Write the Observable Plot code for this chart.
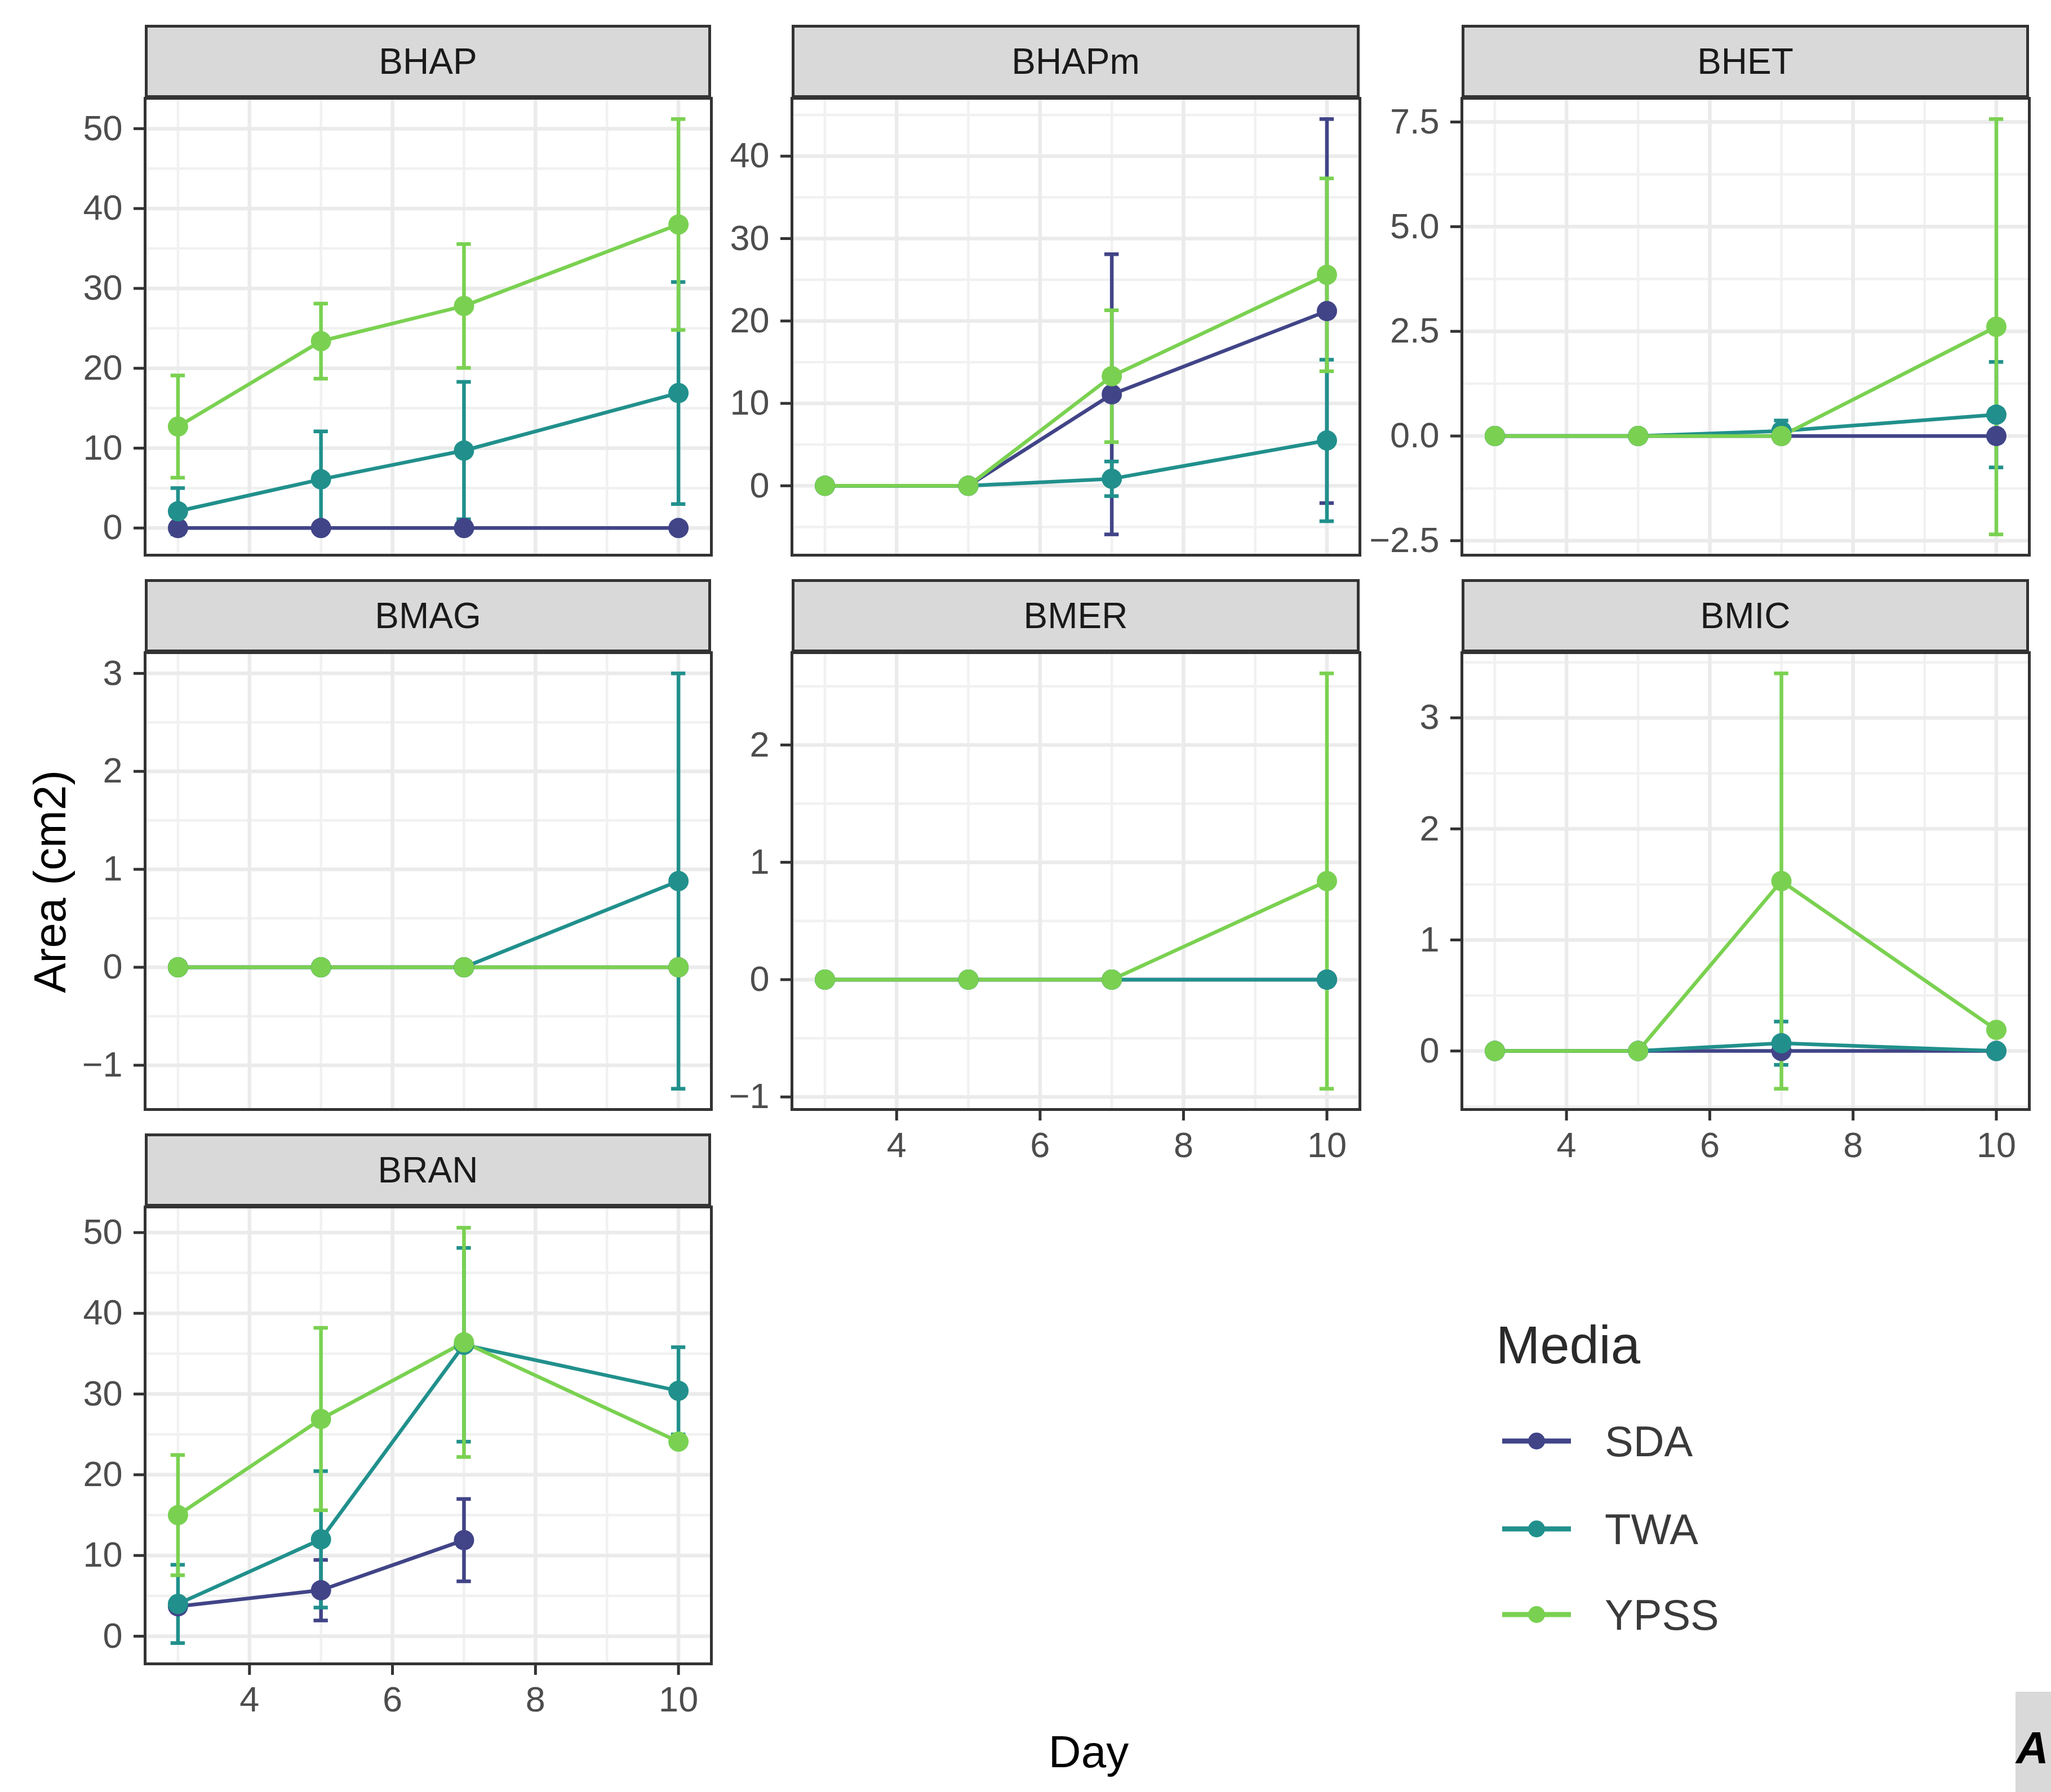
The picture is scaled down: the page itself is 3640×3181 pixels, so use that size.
<!DOCTYPE html>
<html>
<head>
<meta charset="utf-8">
<script src="https://cdn.jsdelivr.net/npm/d3@7"></script>
<script src="https://cdn.jsdelivr.net/npm/@observablehq/plot@0.6"></script>
<style>
  html, body { margin: 0; padding: 0; background: #ffffff; }
  #root { position: relative; width: 3640px; height: 3181px; background: #ffffff; overflow: hidden;
          font-family: "Liberation Sans", Arial, sans-serif; }
  .strip { position: absolute; box-sizing: border-box; background: #D9D9D9; border: 5px solid #333333;
           display: flex; align-items: center; justify-content: center; font-size: 64px; color: #1A1A1A; }
</style>
</head>
<body>
<div id="root"></div>
<script>
// ---------------- data ----------------
const days = [3, 5, 7, 10];
const media = ["SDA", "TWA", "YPSS"];
const mediaColors = ["#414487", "#21908C", "#7AD151"];
const panels = ["BHAP", "BHAPm", "BHET", "BMAG", "BMER", "BMIC", "BRAN"];
const xTicks = [4, 6, 8, 10];

// rows: SDA, TWA, YPSS ; columns: days 3, 5, 7, 10
const BHAP_mean  = [[0, 0, 0, 0], [2.1, 6.1, 9.7, 16.9], [12.7, 23.4, 27.8, 38.0]];
const BHAP_sd    = [[0, 0, 0, 0], [2.9, 6.0, 8.6, 13.9], [6.4, 4.7, 7.75, 13.2]];
const BHAPm_mean = [[0, 0, 11.1, 21.2], [0, 0, 0.85, 5.5], [0, 0, 13.3, 25.6]];
const BHAPm_sd   = [[0, 0, 17.0, 23.3], [0, 0, 2.1, 9.8], [0, 0, 8.0, 11.7]];
const BHET_mean  = [[0, 0, 0, 0], [0, 0, 0.12, 0.51], [0, 0, 0, 2.61]];
const BHET_sd    = [[0, 0, 0, 0], [0, 0, 0.25, 1.26], [0, 0, 0, 4.96]];
const BMAG_mean  = [[0, 0, 0, 0], [0, 0, 0, 0.88], [0, 0, 0, 0]];
const BMAG_sd    = [[0, 0, 0, 0], [0, 0, 0, 2.12], [0, 0, 0, 0]];
const BMER_mean  = [[0, 0, 0, 0], [0, 0, 0, 0], [0, 0, 0, 0.84]];
const BMER_sd    = [[0, 0, 0, 0], [0, 0, 0, 0], [0, 0, 0, 1.77]];
const BMIC_mean  = [[0, 0, 0, 0], [0, 0, 0.07, 0], [0, 0, 1.53, 0.19]];
const BMIC_sd    = [[0, 0, 0, 0], [0, 0, 0.195, 0], [0, 0, 1.87, 0]];
const BRAN_mean  = [[3.7, 5.7, 11.9, null], [4.0, 12.0, 36.1, 30.4], [15.0, 26.9, 36.4, 24.1]];
const BRAN_sd    = [[0, 3.75, 5.1, null], [4.85, 8.45, 12.0, 5.4], [7.45, 11.3, 14.2, 0]];

const BHAP_ticks  = [0, 10, 20, 30, 40, 50];
const BHAPm_ticks = [0, 10, 20, 30, 40];
const BHET_ticks  = [-2.5, 0, 2.5, 5, 7.5];
const BMAG_ticks  = [-1, 0, 1, 2, 3];
const BMER_ticks  = [-1, 0, 1, 2];
const BMIC_ticks  = [0, 1, 2, 3];
const BRAN_ticks  = [0, 10, 20, 30, 40, 50];

const yLabel = "Area (cm2)";
const xLabel = "Day";
const legendTitle = "Media";
const tagLabel = "A";

// ---------------- layout ----------------
const FONT = '"Liberation Sans", Arial, sans-serif';
const colLeft = [257, 1405, 2594];
const colWidth = [1005, 1008, 1007];
const colML = [250, 140, 178];
const stripTop = [44, 1028, 2012];
const STRIP_H = 130;
const PLOT_H = 811;
const MT = 3, MR = 4;
const LW = 6.5;

const panelSpecs = [
  {name: "BHAP",  mean: BHAP_mean,  sd: BHAP_sd,  ticks: BHAP_ticks,  fmt: d3.format("d"),   col: 0, row: 0, showX: false},
  {name: "BHAPm", mean: BHAPm_mean, sd: BHAPm_sd, ticks: BHAPm_ticks, fmt: d3.format("d"),   col: 1, row: 0, showX: false},
  {name: "BHET",  mean: BHET_mean,  sd: BHET_sd,  ticks: BHET_ticks,  fmt: d3.format(".1f"), col: 2, row: 0, showX: false},
  {name: "BMAG",  mean: BMAG_mean,  sd: BMAG_sd,  ticks: BMAG_ticks,  fmt: d3.format("d"),   col: 0, row: 1, showX: false},
  {name: "BMER",  mean: BMER_mean,  sd: BMER_sd,  ticks: BMER_ticks,  fmt: d3.format("d"),   col: 1, row: 1, showX: true},
  {name: "BMIC",  mean: BMIC_mean,  sd: BMIC_sd,  ticks: BMIC_ticks,  fmt: d3.format("d"),   col: 2, row: 1, showX: true},
  {name: "BRAN",  mean: BRAN_mean,  sd: BRAN_sd,  ticks: BRAN_ticks,  fmt: d3.format("d"),   col: 0, row: 2, showX: true}
];

const root = document.getElementById("root");

function expand(lo, hi, f = 0.05) {
  const p = (hi - lo) * f;
  return [lo - p, hi + p];
}

const xDomain = expand(d3.min(days) - 0.1, d3.max(days) + 0.1);
const xMinor = [3, 5, 7, 9];

for (const spec of panelSpecs) {
  const rows = [];
  media.forEach((m, i) => days.forEach((d, j) => {
    const v = spec.mean[i][j];
    if (v != null) rows.push({media: m, day: d, mean: v, sd: spec.sd[i][j] || 0});
  }));
  const yDomain = expand(d3.min(rows, r => r.mean - r.sd), d3.max(rows, r => r.mean + r.sd));
  const step = spec.ticks[1] - spec.ticks[0];
  const yMinor = [spec.ticks[0] - step / 2, ...spec.ticks.map(t => t + step / 2)]
    .filter(v => v >= yDomain[0] && v <= yDomain[1]);

  const pw = colWidth[spec.col];
  const ml = colML[spec.col];
  const mb = spec.showX ? 110 : 4;

  const errMarks = [];
  for (const m of media) {
    const er = rows.filter(r => r.media === m && r.sd > 0);
    errMarks.push(
      Plot.ruleX(er, {x: "day", y1: r => r.mean - r.sd, y2: r => r.mean + r.sd, stroke: "media", strokeWidth: LW}),
      Plot.ruleY(er, {y: r => r.mean + r.sd, x1: r => r.day - 0.1, x2: r => r.day + 0.1, stroke: "media", strokeWidth: LW}),
      Plot.ruleY(er, {y: r => r.mean - r.sd, x1: r => r.day - 0.1, x2: r => r.day + 0.1, stroke: "media", strokeWidth: LW})
    );
  }

  const svg = Plot.plot({
    width: ml + pw + MR,
    height: MT + PLOT_H + mb,
    marginLeft: ml, marginRight: MR, marginTop: MT, marginBottom: mb,
    style: {fontSize: "63px", fontFamily: FONT, background: "transparent", overflow: "visible"},
    x: {domain: xDomain, label: null},
    y: {domain: yDomain, label: null},
    color: {domain: media, range: mediaColors},
    marks: [
      Plot.ruleX(xMinor, {stroke: "#F1F1F1", strokeWidth: 4.5}),
      Plot.ruleY(yMinor, {stroke: "#F1F1F1", strokeWidth: 4.5}),
      Plot.ruleX(xTicks, {stroke: "#EBEBEB", strokeWidth: 6.5}),
      Plot.ruleY(spec.ticks, {stroke: "#EBEBEB", strokeWidth: 6.5}),
      Plot.line(rows, {x: "day", y: "mean", z: "media", stroke: "media", strokeWidth: LW}),
      ...errMarks,
      Plot.dot(rows, {x: "day", y: "mean", fill: "media", r: 18}),
      Plot.frame({stroke: "#333333", strokeWidth: 5}),
      Plot.axisY(spec.ticks, {tickSize: 20, tickPadding: 20, stroke: "#333333", strokeWidth: 5,
                              fill: "#4D4D4D", tickFormat: spec.fmt, label: null}),
      spec.showX
        ? Plot.axisX(xTicks, {tickSize: 20, tickPadding: 20, stroke: "#333333", strokeWidth: 5,
                              fill: "#4D4D4D", tickFormat: d3.format("d"), label: null})
        : Plot.axisX({ticks: [], label: null})
    ]
  });
  const left = colLeft[spec.col] - ml;
  const top = stripTop[spec.row] + STRIP_H - MT;
  svg.style.position = "absolute";
  svg.style.left = left + "px";
  svg.style.top = top + "px";
  svg.style.maxWidth = "none";
  root.appendChild(svg);

  const strip = document.createElement("div");
  strip.className = "strip";
  strip.style.left = colLeft[spec.col] + "px";
  strip.style.top = stripTop[spec.row] + "px";
  strip.style.width = pw + "px";
  strip.style.height = STRIP_H + "px";
  strip.textContent = spec.name;
  root.appendChild(strip);
}

// ---------------- titles, legend, tag ----------------
const ov = d3.select(root).append("svg")
  .attr("width", 3640).attr("height", 3181)
  .style("position", "absolute").style("left", "0px").style("top", "0px")
  .style("pointer-events", "none")
  .attr("font-family", FONT);

ov.append("text")
  .attr("transform", "translate(116,1565) rotate(-90)")
  .attr("text-anchor", "middle")
  .attr("font-size", 80).attr("fill", "#000")
  .text(yLabel);

ov.append("text")
  .attr("x", 1932).attr("y", 3137)
  .attr("text-anchor", "middle")
  .attr("font-size", 80).attr("fill", "#000")
  .text(xLabel);

ov.append("text")
  .attr("x", 2655).attr("y", 2420)
  .attr("font-size", 94).attr("fill", "#2a2a2a")
  .text(legendTitle);

const keyY = [2558, 2714, 2866];
media.forEach((m, i) => {
  const g = ov.append("g");
  g.append("line").attr("x1", 2666).attr("x2", 2788).attr("y1", keyY[i]).attr("y2", keyY[i])
    .attr("stroke", mediaColors[i]).attr("stroke-width", 9);
  g.append("circle").attr("cx", 2727).attr("cy", keyY[i]).attr("r", 15).attr("fill", mediaColors[i]);
  g.append("text").attr("x", 2848).attr("y", keyY[i]).attr("dy", "0.36em")
    .attr("font-size", 76).attr("fill", "#3a3a3a").text(m);
});

ov.append("rect").attr("x", 3577).attr("y", 3003).attr("width", 63).attr("height", 178).attr("fill", "#D9D9D9");
ov.append("text").attr("x", 3578).attr("y", 3130)
  .attr("font-size", 80).attr("font-weight", "bold").attr("font-style", "italic").attr("fill", "#000")
  .text(tagLabel);
</script>
</body>
</html>
